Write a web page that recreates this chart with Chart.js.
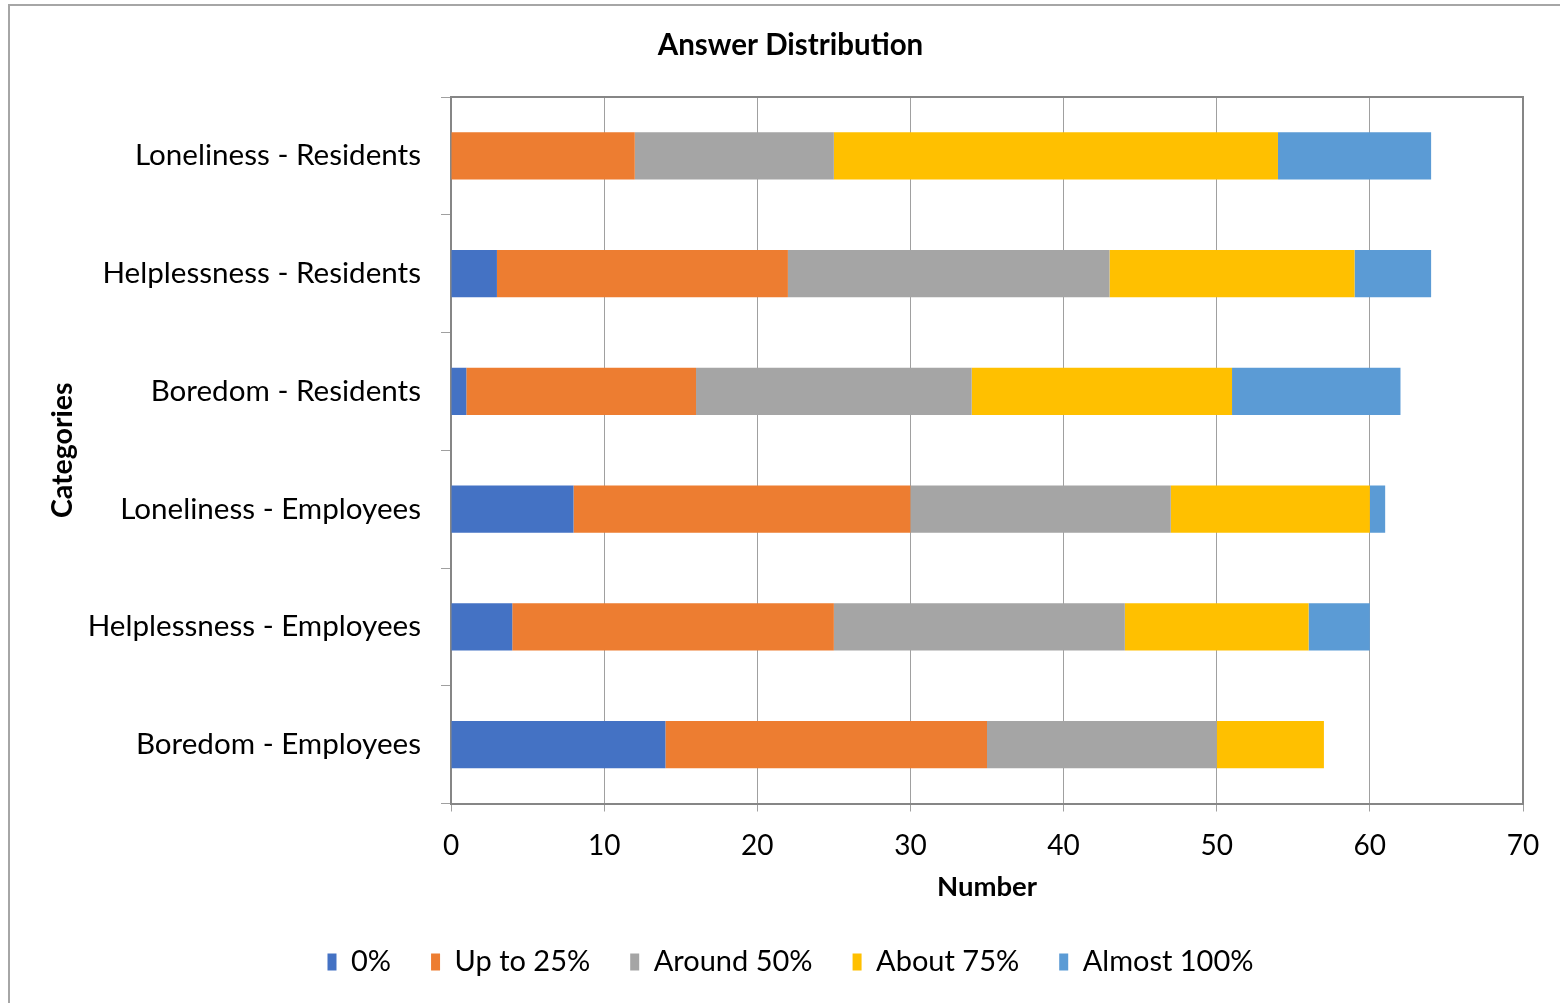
<!DOCTYPE html>
<html>
<head>
<meta charset="utf-8">
<script src="https://cdn.jsdelivr.net/npm/chart.js@4.4.1/dist/chart.umd.min.js"></script>
<style>
  html, body { margin:0; padding:0; background:#fff; overflow:hidden; }
  #frame { position:absolute; left:8px; top:4px; width:1700px; height:1200px; border:2px solid #A6A6A6; box-sizing:border-box; }
  #wrap { position:absolute; left:0; top:0; width:1560px; height:1003px; }
</style>
</head>
<body>
<div id="frame"></div>
<div id="wrap"><canvas id="c" width="1560" height="1003"></canvas></div>
<script>
const categories = [
  'Loneliness - Residents',
  'Helplessness - Residents',
  'Boredom - Residents',
  'Loneliness - Employees',
  'Helplessness - Employees',
  'Boredom - Employees'
];
const seriesNames = ['0%', 'Up to 25%', 'Around 50%', 'About 75%', 'Almost 100%'];
const zeroPct      = [0, 3, 1, 8, 4, 14];
const upTo25       = [12, 19, 15, 22, 21, 21];
const around50     = [13, 21, 18, 17, 19, 15];
const about75      = [29, 16, 17, 13, 12, 7];
const almost100    = [10, 5, 11, 1, 4, 0];
const xTicks = [0, 10, 20, 30, 40, 50, 60, 70];

const colors = ['#4472C4', '#ED7D31', '#A5A5A5', '#FFC000', '#5B9BD5'];
const values = [zeroPct, upTo25, around50, about75, almost100];
const FONT = 'Lato, Carlito, sans-serif';

const frameBorder = {
  id: 'frameBorder',
  afterDraw(chart) {
    const {ctx, chartArea: a} = chart;
    ctx.save();
    ctx.strokeStyle = '#868686';
    ctx.lineWidth = 2;
    ctx.beginPath();
    ctx.moveTo(a.left, a.top);
    ctx.lineTo(a.right, a.top);
    ctx.lineTo(a.right, a.bottom);
    ctx.stroke();
    ctx.restore();
  }
};

new Chart(document.getElementById('c'), {
  type: 'bar',
  data: {
    labels: categories,
    datasets: seriesNames.map((n, i) => ({
      label: n,
      data: values[i],
      backgroundColor: colors[i],
      borderWidth: 0,
      categoryPercentage: 1,
      barPercentage: 0.4
    }))
  },
  options: {
    indexAxis: 'y',
    responsive: false,
    animation: false,
    devicePixelRatio: 1,
    layout: { padding: { left: 58, right: 37, top: 0, bottom: 16.5 } },
    plugins: {
      title: {
        display: true,
        text: 'Answer Distribution',
        color: '#000',
        font: { family: FONT, size: 29.5, weight: 'bold', lineHeight: 1.2 },
        padding: { top: 27.3, bottom: 34.3 }
      },
      legend: {
        position: 'bottom',
        labels: {
          color: '#000',
          font: { family: FONT, size: 29 },
          boxWidth: 9,
          boxHeight: 17,
          padding: 40
        }
      },
      tooltip: { enabled: false }
    },
    scales: {
      x: {
        stacked: true,
        min: 0,
        max: 70,
        afterBuildTicks(scale) { scale.ticks = xTicks.map(v => ({ value: v })); },
        ticks: { color: '#000', font: { family: FONT, size: 28, lineHeight: 1 }, padding: 20 },
        grid: { color: '#A0A0A0', lineWidth: 1, tickLength: 8, drawTicks: true },
        border: { color: '#868686', width: 2 },
        title: {
          display: true,
          text: 'Number',
          color: '#000',
          font: { family: FONT, size: 27.5, weight: 'bold', lineHeight: 1 },
          padding: { top: -6, bottom: 6.5 }
        }
      },
      y: {
        stacked: true,
        afterFit(scale) { scale.width = 393; },
        ticks: { color: '#000', font: { family: FONT, size: 29.6 }, padding: 20 },
        grid: { drawOnChartArea: false, drawTicks: true, tickLength: 10, color: '#A0A0A0', offset: true },
        border: { color: '#868686', width: 2 },
        title: {
          display: true,
          text: 'Categories',
          color: '#000',
          font: { family: FONT, size: 28.5, weight: 'bold', lineHeight: 1.2 },
          padding: { top: -12.1, bottom: 0 }
        }
      }
    }
  },
  plugins: [frameBorder]
});
</script>
</body>
</html>
